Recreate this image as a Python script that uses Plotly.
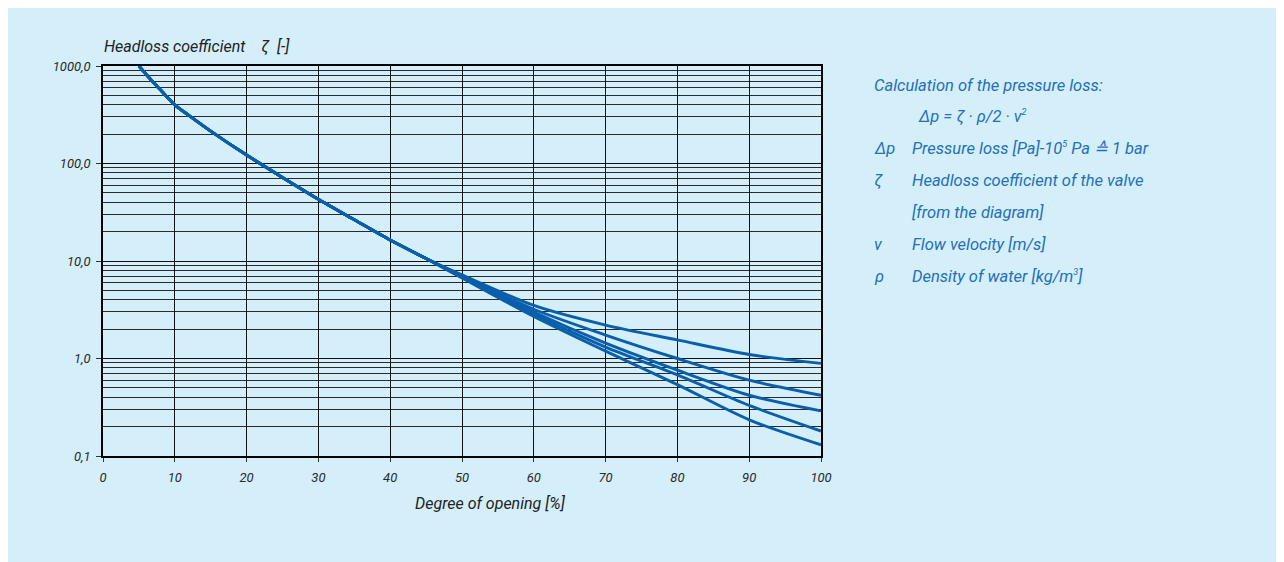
import plotly.graph_objects as go

# ---- data ----
opening = [5, 7, 8, 10, 12, 15, 20, 25, 30, 35, 40, 45, 50, 60, 70, 80, 90, 100]
common = [1000, 680, 570, 400, 310, 215, 122, 72, 43, 26.5, 16.4, 10.6]
tail_1 = [7.2, 3.5, 2.2, 1.55, 1.10, 0.89]
tail_2 = [7.0, 3.2, 1.74, 1.0, 0.60, 0.42]
tail_3 = [6.9, 3.0, 1.44, 0.76, 0.42, 0.29]
tail_4 = [6.8, 2.85, 1.31, 0.68, 0.33, 0.18]
tail_5 = [6.7, 2.7, 1.19, 0.54, 0.235, 0.13]
curves = [common + t for t in (tail_1, tail_2, tail_3, tail_4, tail_5)]

y_tickvals = [0.1, 1, 10, 100, 1000]
y_ticktext = ["0,1", "1,0", "10,0", "100,0", "1000,0"]
x_tickvals = [0, 10, 20, 30, 40, 50, 60, 70, 80, 90, 100]
minor_vals = [m * d for d in (0.1, 1, 10, 100) for m in range(2, 10)]

SUP = "<sup><span style='font-size:9px'>{}</span></sup>"
# (symbol, text, indent)  indent: 0 = left column, 1 = text column, 2 = formula
legend_rows = [
    ("", "Calculation of the pressure loss:", 0),
    ("", "Δp = ζ · ρ/2 · v" + SUP.format("2"), 2),
    ("Δp", "Pressure loss [Pa]-10" + SUP.format("5") + " Pa ≙ 1 bar", 1),
    ("ζ", "Headloss coefficient of the valve", 1),
    ("", "[from the diagram]", 1),
    ("v", "Flow velocity [m/s]", 1),
    ("ρ", "Density of water [kg/m" + SUP.format("3") + "]", 1),
]

# ---- layout geometry ----
W, H = 1271, 554
OFF = 8  # body margin of the page
L, R, T, B = 95, 458, 58, 106
PW, PH = W - L - R, H - T - B
BG = "#d4eefa"
BLUE = "#0a5fab"
TXT_BLUE = "#2470b9"
FONT = "Roboto"


def px(xp):
    return (xp - OFF - L) / PW


def py(yp):
    return (H - B - (yp - OFF)) / PH


fig = go.Figure()
for ys in curves:
    fig.add_trace(go.Scatter(
        x=opening, y=ys, mode="lines",
        line=dict(color=BLUE, width=2.9, shape="spline", smoothing=0.8),
        hoverinfo="skip", showlegend=False,
    ))

fig.update_xaxes(
    range=[0, 100], tickvals=x_tickvals,
    ticks="outside", ticklen=4, tickcolor="#333", tickwidth=1,
    tickfont=dict(family=FONT, size=13, color="#2a2a2a", style="italic"),
    ticklabelstandoff=4,
    showgrid=True, gridcolor="#111", gridwidth=1,
    showline=True, linecolor="#000", linewidth=2, mirror=True,
    zeroline=False,
)
fig.update_yaxes(
    type="log", range=[-1, 3], tickvals=y_tickvals, ticktext=y_ticktext,
    ticks="outside", ticklen=5, tickcolor="#333", tickwidth=1,
    tickfont=dict(family=FONT, size=13, color="#2a2a2a", style="italic"),
    ticklabelstandoff=3,
    showgrid=True, gridcolor="#111", gridwidth=1,
    minor=dict(tickvals=minor_vals, showgrid=True, gridcolor="#2a2a2a",
               gridwidth=1, ticks=""),
    showline=True, linecolor="#000", linewidth=1.5, mirror=True,
    zeroline=False,
)

ann = []
ann.append(dict(text="Headloss coefficient    ζ  [-]", x=px(102), y=py(47),
                xanchor="left", yanchor="middle",
                font=dict(family=FONT, size=16, color="#222", style="italic")))
ann.append(dict(text="Degree of opening [%]", x=px(490), y=py(503),
                xanchor="center", yanchor="middle",
                font=dict(family=FONT, size=16, color="#222", style="italic")))

row_y = [85, 116, 148, 180, 212, 244, 276]
col_x = {0: 872, 1: 910, 2: 916}
for (sym, txt, ind), yy in zip(legend_rows, row_y):
    if sym:
        ann.append(dict(text=sym, x=px(872), y=py(yy), xanchor="left",
                        yanchor="middle",
                        font=dict(family=FONT, size=16.5, color=TXT_BLUE,
                                  style="italic")))
    ann.append(dict(text=txt, x=px(col_x[ind]), y=py(yy),
                    xanchor="left", yanchor="middle",
                    font=dict(family=FONT, size=16.5, color=TXT_BLUE,
                              style="italic")))
for a in ann:
    a.update(xref="paper", yref="paper", showarrow=False)

fig.update_layout(
    width=W, height=H,
    margin=dict(l=L, r=R, t=T, b=B, pad=0),
    paper_bgcolor=BG, plot_bgcolor=BG,
    annotations=ann,
    font=dict(family=FONT),
)

fig.write_html("out.html")
